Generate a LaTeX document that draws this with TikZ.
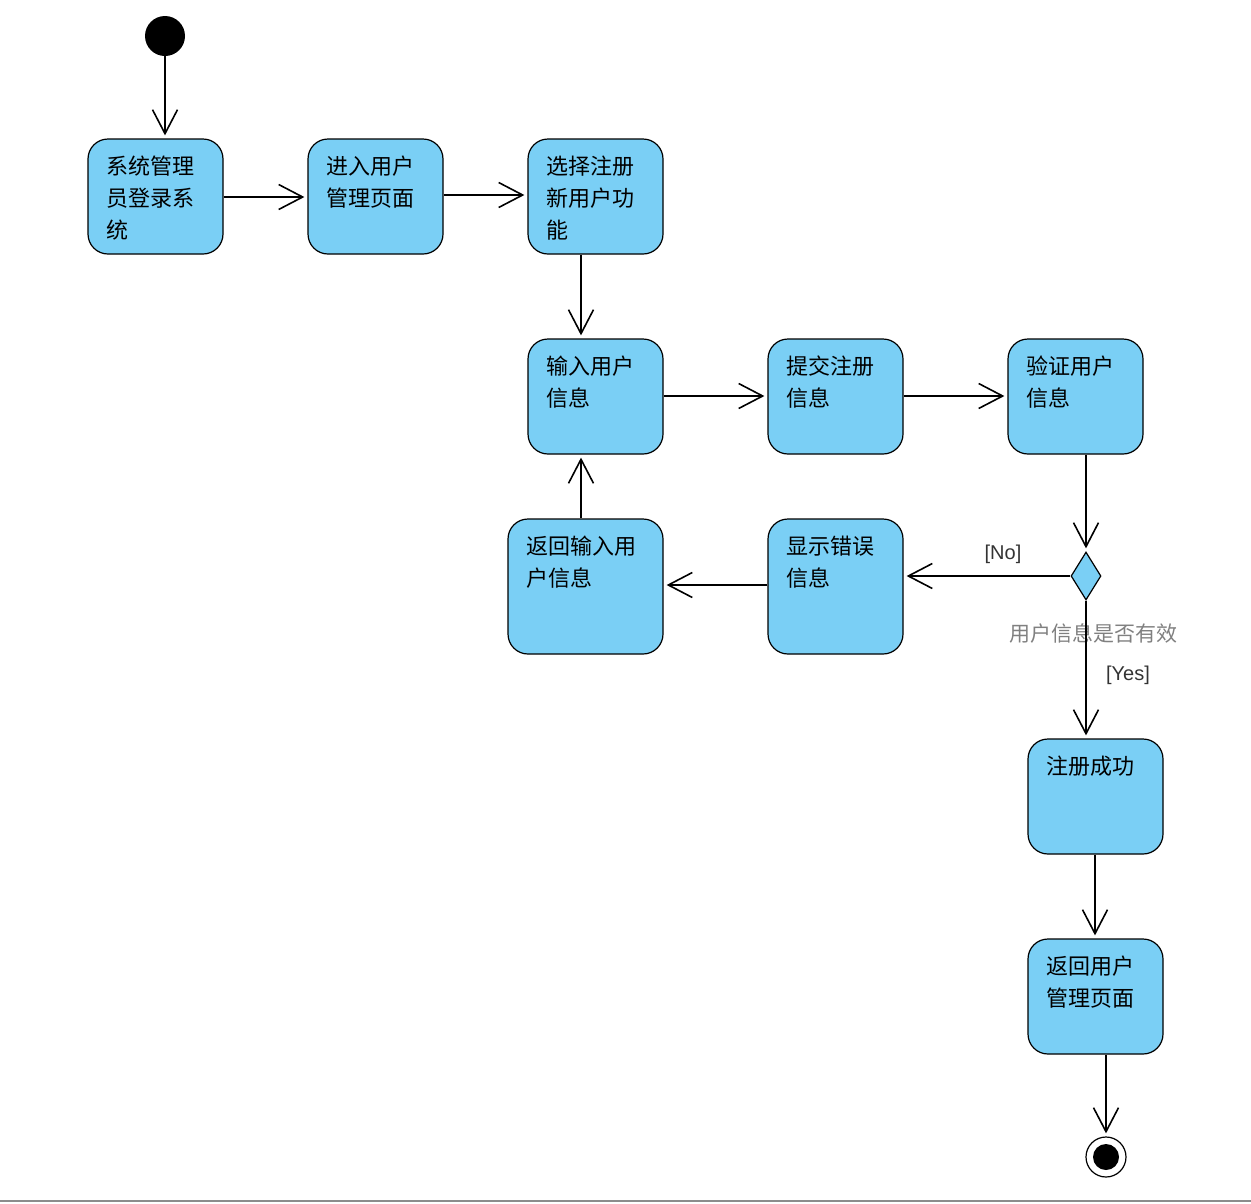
\documentclass[tikz,border=0pt]{standalone}
\usepackage{fontspec}
\setmainfont{Liberation Sans}
\newfontfamily\cjk{Noto Sans CJK SC}
\usetikzlibrary{arrows.meta,shapes.geometric,positioning}
\definecolor{actblue}{RGB}{122,207,245}

\begin{document}
\begin{tikzpicture}[x=1pt,y=-1pt,
    act/.style={draw, line width=1.2pt, fill=actblue, rounded corners=20pt, minimum width=135pt, minimum height=115pt, inner sep=0pt},
    txt/.style={anchor=north west, inner sep=0pt, align=left, font=\cjk\fontsize{22}{32}\selectfont},
    flow/.style={line width=1.6pt, -{Straight Barb[length=24pt,width=25pt]}, shorten >=3pt},
    guard/.style={font=\fontsize{20}{22}\selectfont, text=black!80}
]
\useasboundingbox (0,0) rectangle (1251,1203);

\node[circle, fill=black, minimum size=40pt, inner sep=0pt] (start) at (165,36) {};

\node[act] (login) at (155.5,196.5) {};
\node[txt] (logint) at ([shift={(19,17)}]login.north west) {系统管理\\员登录系\\统};

\node[act] (manage) at (375.5,196.5) {};
\node[txt] (managet) at ([shift={(19,17)}]manage.north west) {进入用户\\管理页面};

\node[act] (select) at (595.5,196.5) {};
\node[txt] (selectt) at ([shift={(19,17)}]select.north west) {选择注册\\新用户功\\能};

\node[act] (input) at (595.5,396.5) {};
\node[txt] (inputt) at ([shift={(19,17)}]input.north west) {输入用户\\信息};

\node[act] (submit) at (835.5,396.5) {};
\node[txt] (submitt) at ([shift={(19,17)}]submit.north west) {提交注册\\信息};

\node[act] (check) at (1075.5,396.5) {};
\node[txt] (checkt) at ([shift={(19,17)}]check.north west) {验证用户\\信息};

\node[act, minimum width=155pt, minimum height=135pt] (back) at (585.5,586.5) {};
\node[txt] (backt) at ([shift={(19,17)}]back.north west) {返回输入用\\户信息};

\node[act, minimum height=135pt] (error) at (835.5,586.5) {};
\node[txt] (errort) at ([shift={(19,17)}]error.north west) {显示错误\\信息};

\node[draw, diamond, fill=actblue, line width=1.2pt, minimum width=30pt, minimum height=48pt, inner sep=0pt] (dec) at (1086,576) {};
\node[font=\cjk\fontsize{21}{24}\selectfont, text=black!50] (declbl) at (1093,633) {用户信息是否有效};

\node[act] (ok) at (1095.5,796.5) {};
\node[txt] (okt) at ([shift={(19,17)}]ok.north west) {注册成功};

\node[act] (ret) at (1095.5,996.5) {};
\node[txt] (rett) at ([shift={(19,17)}]ret.north west) {返回用户\\管理页面};

\node[circle, draw, line width=1.2pt, minimum size=40pt, inner sep=0pt] (end) at (1106,1157) {};
\node[circle, fill=black, minimum size=26pt, inner sep=0pt] (endin) at (end) {};

\draw[flow] (start) -- (start |- login.north);
\draw[flow] ([yshift=-0.5pt]login.east) -- ([yshift=-0.5pt]manage.west);
\draw[flow] ([yshift=1.5pt]manage.east) -- ([yshift=1.5pt]select.west);
\draw[flow] ([xshift=-14.5pt]select.south) -- ([xshift=-14.5pt]input.north);
\draw[flow] ([yshift=0.5pt]input.east) -- ([yshift=0.5pt]submit.west);
\draw[flow] ([yshift=0.5pt]submit.east) -- ([yshift=0.5pt]check.west);
\draw[flow] (check.south -| dec) -- (dec.north);
\draw[flow] (dec.west) -- (dec.west -| error.east);
\node[guard] (nolbl) at (1003,554) {[No]};
\draw[flow] ([yshift=1.5pt]error.west) -- ([yshift=1.5pt]back.east);
\draw[flow] ([xshift=-4.5pt]back.north) -- ([xshift=-14.5pt]input.south);
\draw[flow] (dec.south) -- (dec.south |- ok.north);
\node[guard] (yeslbl) at (1128,675) {[Yes]};
\draw[flow] ([xshift=-0.5pt]ok.south) -- ([xshift=-0.5pt]ret.north);
\draw[flow] (ret.south -| end) -- (end.north);

\draw[line width=2pt, black!45] (0,1201) -- (1251,1201);
\end{tikzpicture}
\end{document}
